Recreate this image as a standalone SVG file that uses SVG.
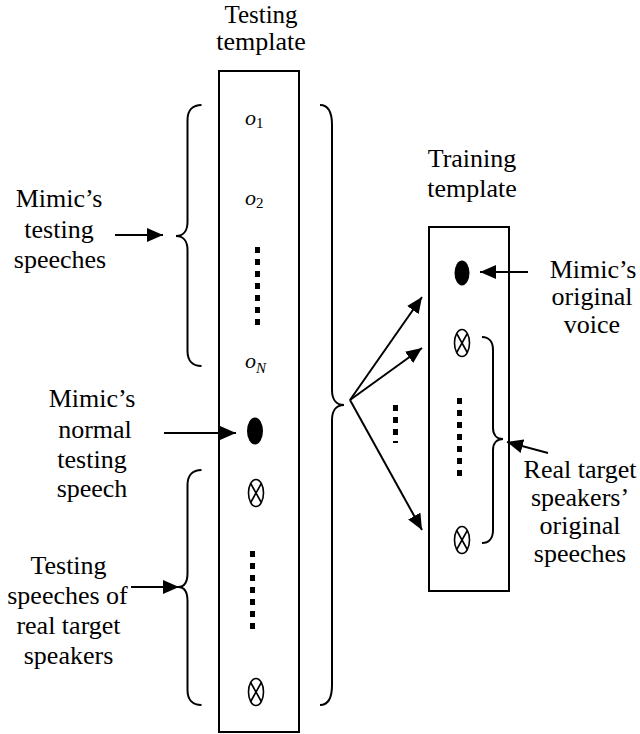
<svg xmlns="http://www.w3.org/2000/svg" width="640" height="734" viewBox="0 0 640 734">
<style>
text{font-family:"Liberation Serif","Times New Roman",serif;font-size:26px;fill:#000}
.lbl{text-anchor:middle}
.ttl{font-size:25px}
.box{fill:#fff;stroke:#000;stroke-width:2}
.ln{fill:none;stroke:#000;stroke-width:2}
.arr{fill:none;stroke:#000;stroke-width:2;marker-end:url(#ah)}
.dots{fill:none;stroke:#000;stroke-width:5;stroke-dasharray:6 6}
.dot{fill:#000}
.xc{fill:none;stroke:#000;stroke-width:1.6}
.m{font-size:22px;font-style:italic}
.sub{font-size:15px;font-style:normal}
.subi{font-size:15px;font-style:italic}
</style>
<defs>
<marker id="ah" viewBox="0 0 16 14" refX="16" refY="7" markerWidth="16" markerHeight="14" markerUnits="userSpaceOnUse" orient="auto">
<path d="M0,0 L16,7 L0,14 z" fill="#000"/>
</marker>
<g id="xcirc">
<ellipse cx="0" cy="0" rx="7.5" ry="13.5" class="xc"/>
<path d="M-5.3,-9.5 L5.3,9.5 M5.3,-9.5 L-5.3,9.5" class="xc"/>
</g>
</defs>

<g id="testing-template">
<text class="lbl ttl" x="261" y="22.5">Testing</text>
<text class="lbl" x="261" y="49.5">template</text>
<rect class="box" x="219" y="71" width="80" height="661"/>
<text class="m" x="245" y="125">o<tspan class="sub" dy="3">1</tspan></text>
<text class="m" x="245" y="205">o<tspan class="sub" dy="3">2</tspan></text>
<line class="dots" x1="257.5" y1="247" x2="257.5" y2="325"/>
<text class="m" x="245" y="368">o<tspan class="subi" dy="5">N</tspan></text>
<ellipse class="dot" cx="255" cy="431" rx="8" ry="13.5"/>
<use href="#xcirc" x="256" y="493"/>
<line class="dots" x1="252.5" y1="551" x2="252.5" y2="629"/>
<use href="#xcirc" x="256" y="692"/>
</g>

<g id="training-template">
<text class="lbl" x="472" y="167">Training</text>
<text class="lbl" x="472" y="197">template</text>
<rect class="box" x="429" y="227" width="80" height="364"/>
<ellipse class="dot" cx="462" cy="273" rx="7.5" ry="12.5"/>
<use href="#xcirc" x="462" y="343"/>
<line class="dots" x1="459.5" y1="398" x2="459.5" y2="476"/>
<use href="#xcirc" x="462" y="540"/>
</g>

<g id="label-mimic-testing">
<text class="lbl" x="59" y="207">Mimic’s</text>
<text class="lbl" x="59" y="238">testing</text>
<text class="lbl" x="60" y="268">speeches</text>
</g>

<g id="label-mimic-normal">
<text class="lbl" x="92" y="407">Mimic’s</text>
<text class="lbl" x="95" y="437.5">normal</text>
<text class="lbl" x="92" y="467.5">testing</text>
<text class="lbl" x="92" y="497">speech</text>
</g>

<g id="label-testing-real">
<text class="lbl" x="68.5" y="574">Testing</text>
<text class="lbl" x="67.5" y="604">speeches of</text>
<text class="lbl" x="68.5" y="634">real target</text>
<text class="lbl" x="68.5" y="664">speakers</text>
</g>

<g id="label-mimic-original">
<text class="lbl" x="593" y="278">Mimic’s</text>
<text class="lbl" x="592" y="305">original</text>
<text class="lbl" x="592" y="333">voice</text>
</g>

<g id="label-real-original">
<text class="lbl" x="580" y="478">Real target</text>
<text class="lbl" x="580" y="506">speakers’</text>
<text class="lbl" x="580" y="534">original</text>
<text class="lbl" x="580" y="562">speeches</text>
</g>

<g id="braces">
<path class="ln" d="M201.5,105 C193,105 187.5,110 187.5,120 L187.5,222 C187.5,231 183,236 176,236 C183,236 187.5,241 187.5,250 L187.5,351 C187.5,361 193,366 201.5,366"/>
<path class="ln" d="M201.5,470 C193,470 187.5,475 187.5,485 L187.5,573 C187.5,582 184,587 178,587 C184,587 187.5,592 187.5,601 L187.5,690 C187.5,700 193,705 201.5,705"/>
<path class="ln" d="M320,105 C328,105 332,112 332,125 L332,390 C332,400 337,405 344,405 C337,405 332,410 332,420 L332,685 C332,698 328,705 320,705"/>
<path class="ln" d="M482,337 C489,337 493,342 493,350 L493,428 C493,435 497,439 503,439 C497,439 493,443 493,450 L493,530 C493,538 489,543 482,543"/>
</g>

<g id="connectors">
<line class="arr" x1="115" y1="235" x2="163" y2="235"/>
<line class="arr" x1="164" y1="433" x2="236" y2="433"/>
<line class="arr" x1="131" y1="587" x2="179" y2="587"/>
<line class="arr" x1="350" y1="400" x2="422" y2="297"/>
<line class="arr" x1="350" y1="400" x2="422" y2="348"/>
<line class="arr" x1="350" y1="400" x2="422" y2="530"/>
<line class="dots" x1="395.5" y1="405" x2="395.5" y2="443"/>
<line class="arr" x1="528" y1="272" x2="480" y2="272"/>
<line class="arr" x1="548" y1="453" x2="507" y2="442"/>
</g>
</svg>
